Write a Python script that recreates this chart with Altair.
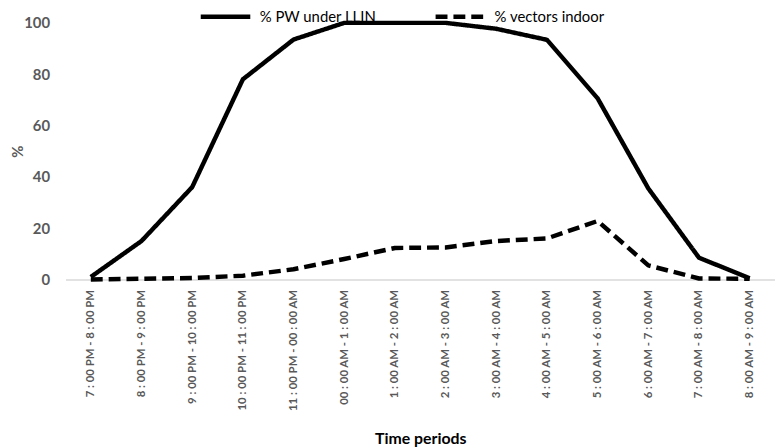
import altair as alt
import pandas as pd

periods = [
    "7 : 00 PM - 8 : 00 PM", "8 : 00 PM - 9 : 00 PM", "9 : 00 PM - 10 : 00 PM",
    "10 : 00 PM - 11 : 00 PM", "11 : 00 PM - 00 : 00 AM", "00 : 00 AM - 1 : 00 AM",
    "1 : 00 AM - 2 : 00 AM", "2 : 00 AM - 3 : 00 AM", "3 : 00 AM - 4 : 00 AM",
    "4 : 00 AM - 5 : 00 AM", "5 : 00 AM - 6 : 00 AM", "6 : 00 AM - 7 : 00 AM",
    "7 : 00 AM - 8 : 00 AM", "8 : 00 AM - 9 : 00 AM",
]
pw_under_llin = [1, 15, 36, 78, 93.5, 100, 100, 100, 97.7, 93.4, 70.6, 35.5, 8.5, 0.5]
vectors_indoor = [0, 0.3, 0.6, 1.5, 4, 8, 12.3, 12.5, 15, 16, 22.8, 5.5, 0.4, 0.3]
series_names = ["% PW under LLIN", "% vectors indoor"]

rows = []
for i, p in enumerate(periods):
    rows.append({"period": p, "value": pw_under_llin[i], "series": series_names[0], "order": i})
    rows.append({"period": p, "value": vectors_indoor[i], "series": series_names[1], "order": i})
df = pd.DataFrame(rows)

FONT = "Lato"
GREY = "#595959"

chart = alt.Chart(df).mark_line(color="black", strokeWidth=4.5, strokeJoin="round").encode(
    x=alt.X("period:N", sort=periods, scale=alt.Scale(type="point", padding=0.5),
            axis=alt.Axis(title="Time periods", labelAngle=270, labelAlign="right",
                          labelBaseline="middle", labelFont=FONT, labelFontSize=11.5,
                          labelFontWeight="bold", labelColor=GREY, labelPadding=10,
                          ticks=False, domainColor="#d9d9d9", domainWidth=1.5,
                          titleFont=FONT, titleFontSize=16, titleFontWeight="bold",
                          titleColor="black", titlePadding=20, labelLimit=200)),
    y=alt.Y("value:Q", scale=alt.Scale(domain=[0, 100], nice=False),
            axis=alt.Axis(title="%", values=[0, 20, 40, 60, 80, 100], grid=False,
                          domain=False, ticks=False, labelFont=FONT, labelFontSize=15,
                          labelFontWeight="bold", labelColor=GREY, labelPadding=16,
                          titleFont=FONT, titleFontSize=15, titleFontWeight="bold",
                          titleColor=GREY, titlePadding=-2)),
    strokeDash=alt.StrokeDash("series:N", sort=series_names,
                              scale=alt.Scale(domain=series_names, range=[[1, 0], [12, 6]]),
                              legend=alt.Legend(title=None, orient="none", direction="horizontal",
                                                legendX=134, legendY=-34, symbolType="stroke",
                                                symbolSize=2500, symbolStrokeWidth=4.5,
                                                symbolStrokeColor="black", labelFont=FONT,
                                                labelFontSize=15, labelColor="black",
                                                labelOffset=7, columnPadding=50)),
    order="order:Q",
).properties(
    width=716, height=259,
    autosize=alt.AutoSizeParams(type="none"),
    padding={"left": 58, "top": 13, "right": 0, "bottom": 168},
).configure_view(stroke=None)

chart.save("out.html", embed_options={"renderer": "svg", "actions": False})
